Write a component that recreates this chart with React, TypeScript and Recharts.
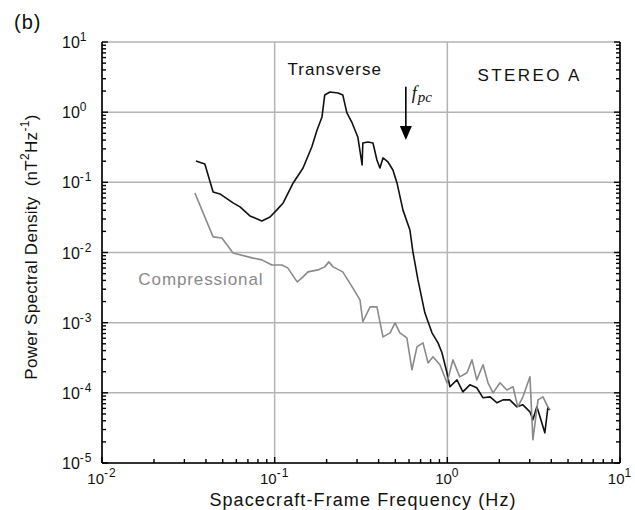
import React from "react";
import {
  LineChart,
  Line,
  XAxis,
  YAxis,
  CartesianGrid,
  ReferenceDot,
  ReferenceLine,
} from "recharts";

// ---- data ----
const transFreq = [
  0.035, 0.0394, 0.044, 0.0482, 0.0574, 0.063, 0.0719, 0.0843, 0.094, 0.103,
  0.112, 0.128, 0.146, 0.164, 0.176, 0.188, 0.195, 0.209, 0.233, 0.248, 0.262,
  0.281, 0.303, 0.321, 0.324, 0.347, 0.371, 0.391, 0.407, 0.424, 0.453, 0.484,
  0.511, 0.553, 0.607, 0.632, 0.676, 0.741, 0.815, 0.883, 0.931, 0.995, 1.035,
  1.137, 1.23, 1.35, 1.48, 1.61, 1.77, 1.94, 2.1, 2.3, 2.53, 2.74, 3.01, 3.13,
  3.3, 3.44, 3.67, 3.82, 3.93,
];
const transPsd = [
  0.202, 0.183, 0.073, 0.0684, 0.0509, 0.0447, 0.0332, 0.0282, 0.0321, 0.0405,
  0.0509, 0.098, 0.16, 0.319, 0.557, 0.855, 1.76, 1.94, 1.88, 1.76, 0.975,
  0.702, 0.443, 0.177, 0.364, 0.376, 0.364, 0.208, 0.16, 0.223, 0.195, 0.15,
  0.098, 0.0405, 0.021, 0.0102, 0.00407, 0.00138, 0.000716, 0.000515, 0.000372,
  0.000193, 0.000122, 0.000153, 0.000103, 0.00013, 0.000118, 0.0000849,
  0.0000877, 0.0000721, 0.0000794, 0.0000794, 0.0000632, 0.0000675, 0.0000536,
  0.0000412, 0.0000632, 0.0000455, 0.0000269, 0.0000611, 0.0000573,
];

const compFreq = [
  0.0345, 0.044, 0.0495, 0.0574, 0.0739, 0.0843, 0.0964, 0.11, 0.119, 0.135,
  0.144, 0.156, 0.178, 0.195, 0.206, 0.218, 0.248, 0.281, 0.312, 0.324, 0.357,
  0.391, 0.424, 0.466, 0.498, 0.531, 0.583, 0.624, 0.667, 0.723, 0.773, 0.826,
  0.906, 0.995, 1.077, 1.18, 1.3, 1.39, 1.48, 1.61, 1.72, 1.84, 2.02, 2.21, 2.4,
  2.56, 2.74, 3.01, 3.13, 3.35, 3.58, 3.82, 3.93,
];
const compPsd = [
  0.0706, 0.0167, 0.0161, 0.00987, 0.00838, 0.00785, 0.00665, 0.00665, 0.00604,
  0.00381, 0.00435, 0.0053, 0.00565, 0.00624, 0.00735, 0.00624, 0.0053,
  0.00324, 0.00211, 0.00103, 0.00168, 0.00168, 0.000628, 0.000716, 0.000993,
  0.000716, 0.000607, 0.000213, 0.000452, 0.000515, 0.000267, 0.000326,
  0.000251, 0.000139, 0.000295, 0.000169, 0.000193, 0.000295, 0.000153,
  0.000251, 0.000139, 0.0001, 0.000139, 0.00011, 0.000122, 0.0000632,
  0.0000877, 0.000169, 0.0000214, 0.0000794, 0.0000877, 0.0000632, 0.0000573,
];

const xDecades = [0.01, 0.1, 1, 10];
const yDecades = [1e-5, 1e-4, 1e-3, 1e-2, 1e-1, 1, 10];
const minorMultipliers = [1, 2, 3, 4, 5, 6, 7, 8, 9];

// annotation anchors (data coordinates)
const fpcFreq = 0.575;
const fpcTop = 2.3;
const fpcTip = 0.4;
const textNotes = [
  { f: 0.223, v: 3.99, text: "Transverse", color: "#111", spacing: 1 },
  { f: 3.0, v: 3.28, text: "STEREO A", color: "#111", spacing: 2.4 },
  { f: 0.0374, v: 0.00407, text: "Compressional", color: "#8a8a8a", spacing: 0.9 },
];

const transData = transFreq.map((f, i) => ({ f, psd: transPsd[i] }));
const compData = compFreq.map((f, i) => ({ f, psd: compPsd[i] }));

const expand = (decades: number[]) => {
  const out: number[] = [];
  decades.forEach((d, i) => {
    if (i === decades.length - 1) out.push(d);
    else minorMultipliers.forEach((m) => out.push(parseFloat((d * m).toPrecision(6))));
  });
  return out;
};
const xTicks = expand(xDecades);
const yTicks = expand(yDecades);

const FONT = "'Liberation Sans', Arial, Helvetica, sans-serif";
const isMajor = (v: number) => {
  const l = Math.log10(v);
  return Math.abs(l - Math.round(l)) < 1e-6;
};
const expOf = (v: number) => {
  const e = Math.round(Math.log10(v));
  return e < 0 ? "-" + Math.abs(e) : String(e);
};

const BottomTick = (props: any) => {
  const { x, y, payload } = props;
  const major = isMajor(payload.value);
  return (
    <g>
      <line x1={x} y1={y} x2={x} y2={y - (major ? 6 : 4)} stroke="#000" strokeWidth={1.4} />
      {major && (
        <text x={x} y={y + 21} textAnchor="middle" fontSize={15} fontFamily={FONT} fill="#111">
          10
          <tspan dy={-7} fontSize={12} letterSpacing={1}>
            {expOf(payload.value)}
          </tspan>
        </text>
      )}
    </g>
  );
};

const TopTick = (props: any) => {
  const { x, y, payload } = props;
  const major = isMajor(payload.value);
  return <line x1={x} y1={y} x2={x} y2={y + (major ? 6 : 4)} stroke="#000" strokeWidth={1.4} />;
};

const LeftTick = (props: any) => {
  const { x, y, payload } = props;
  const major = isMajor(payload.value);
  return (
    <g>
      <line x1={x} y1={y} x2={x + (major ? 6 : 4)} y2={y} stroke="#000" strokeWidth={1.4} />
      {major && (
        <text x={x - 40} y={y + 6} textAnchor="start" fontSize={16} fontFamily={FONT} fill="#111">
          10
          <tspan dy={-7} fontSize={12} letterSpacing={1}>
            {expOf(payload.value)}
          </tspan>
        </text>
      )}
    </g>
  );
};

const RightTick = (props: any) => {
  const { x, y, payload } = props;
  const major = isMajor(payload.value);
  return <line x1={x} y1={y} x2={x - (major ? 6 : 4)} y2={y} stroke="#000" strokeWidth={1.4} />;
};

const FpcArrow = (props: any) => {
  const { x1, y1, x2, y2 } = props;
  const top = Math.min(y1, y2);
  const tip = Math.max(y1, y2);
  const x = x1;
  return (
    <g>
      <line x1={x} y1={top} x2={x} y2={tip - 12} stroke="#000" strokeWidth={1.6} />
      <polygon points={`${x - 6},${tip - 14} ${x + 6},${tip - 14} ${x},${tip}`} fill="#000" />
      <text
        x={x + 6}
        y={top + 12}
        fontFamily="'Liberation Serif', 'Times New Roman', serif"
        fontStyle="italic"
        fontSize={18}
        fill="#111"
      >
        f
        <tspan dx={1} dy={3} fontSize={15}>
          pc
        </tspan>
      </text>
    </g>
  );
};

const noteShape = (note: (typeof textNotes)[number]) => (p: any) => (
  <text
    x={p.cx}
    y={p.cy}
    textAnchor="middle"
    dominantBaseline="central"
    fontFamily={FONT}
    fontSize={17}
    letterSpacing={note.spacing}
    fill={note.color}
  >
    {note.text}
  </text>
);

export default function App() {
  return (
    <div style={{ position: "absolute", left: 0, top: 0, width: 635, height: 510, background: "#fff" }}>
      <div
        style={{
          position: "absolute",
          left: 14,
          top: 10,
          fontFamily: FONT,
          fontSize: 20,
          lineHeight: "24px",
          letterSpacing: 1,
          color: "#111",
        }}
      >
        (b)
      </div>
      <LineChart width={635} height={510} margin={{ top: 42, right: 0, bottom: 0, left: 0 }}>
        <CartesianGrid
          stroke="#b4b4b4"
          strokeWidth={1.5}
          verticalValues={xDecades}
          horizontalValues={yDecades}
        />
        <XAxis
          dataKey="f"
          type="number"
          scale="log"
          domain={[0.01, 10]}
          ticks={xTicks}
          interval={0}
          height={47}
          tickSize={0}
          tickMargin={0}
          tickLine={false}
          axisLine={{ stroke: "#000", strokeWidth: 1.6 }}
          tick={<BottomTick />}
          allowDataOverflow
          label={{
            content: (p: any) => {
              const vb = p.viewBox || {};
              return (
                <text
                  x={363}
                  y={(vb.y ?? 463) + 43}
                  textAnchor="middle"
                  fontFamily={FONT}
                  fontSize={18}
                  letterSpacing={1.1}
                  fill="#111"
                >
                  Spacecraft-Frame Frequency (Hz)
                </text>
              );
            },
          }}
        />
        <XAxis
          xAxisId="top"
          dataKey="f"
          type="number"
          orientation="top"
          scale="log"
          domain={[0.01, 10]}
          ticks={xTicks}
          interval={0}
          height={0}
          tickSize={0}
          tickMargin={0}
          tickLine={false}
          axisLine={{ stroke: "#000", strokeWidth: 1.6 }}
          tick={<TopTick />}
          allowDataOverflow
        />
        <YAxis
          type="number"
          scale="log"
          domain={[1e-5, 10]}
          ticks={yTicks}
          interval={0}
          width={102}
          tickSize={0}
          tickMargin={0}
          tickLine={false}
          axisLine={{ stroke: "#000", strokeWidth: 1.6 }}
          tick={<LeftTick />}
          allowDataOverflow
          label={{
            content: (p: any) => {
              const cx = 31;
              const cy = 247;
              return (
                <text
                  x={cx}
                  y={cy}
                  transform={`rotate(-90 ${cx} ${cy})`}
                  textAnchor="middle"
                  dominantBaseline="central"
                  fontFamily={FONT}
                  fontSize={17}
                  letterSpacing={0.3}
                  fill="#111"
                >
                  Power Spectral Density{"\u00a0\u00a0"}(nT
                  <tspan dy={-6} fontSize={12}>2</tspan>
                  <tspan dy={6}>Hz</tspan>
                  <tspan dy={-6} fontSize={12}>-1</tspan>
                  <tspan dy={6}>)</tspan>
                </text>
              );
            },
          }}
        />
        <YAxis
          yAxisId="right"
          orientation="right"
          type="number"
          scale="log"
          domain={[1e-5, 10]}
          ticks={yTicks}
          interval={0}
          width={15}
          tickSize={0}
          tickMargin={0}
          tickLine={false}
          axisLine={{ stroke: "#000", strokeWidth: 1.6 }}
          tick={<RightTick />}
          allowDataOverflow
        />
        <Line
          data={transData}
          dataKey="psd"
          type="linear"
          stroke="#111"
          strokeWidth={1.6}
          dot={false}
          isAnimationActive={false}
          strokeLinejoin="round"
        />
        <Line
          data={compData}
          dataKey="psd"
          type="linear"
          stroke="#8a8a8a"
          strokeWidth={1.6}
          dot={false}
          isAnimationActive={false}
          strokeLinejoin="round"
        />
        <ReferenceLine
          segment={[
            { x: fpcFreq, y: fpcTop },
            { x: fpcFreq, y: fpcTip },
          ]}
          ifOverflow="visible"
          shape={<FpcArrow />}
        />
        {textNotes.map((n) => (
          <ReferenceDot
            key={n.text}
            x={n.f}
            y={n.v}
            r={0}
            ifOverflow="visible"
            shape={noteShape(n)}
          />
        ))}
      </LineChart>
    </div>
  );
}
